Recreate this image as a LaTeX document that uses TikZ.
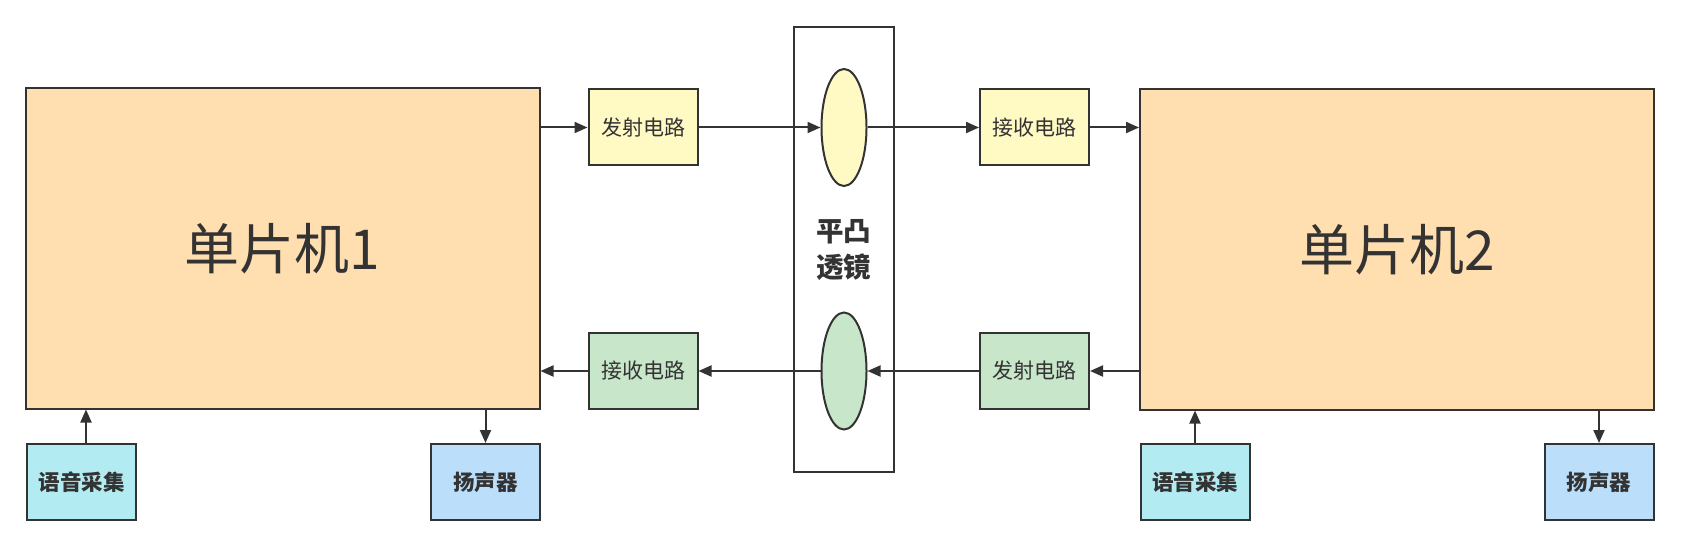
\documentclass[tikz,border=0pt]{standalone}
\usepackage{fontspec}
\setmainfont{Noto Sans CJK SC}
\usetikzlibrary{shapes.geometric,arrows.meta}
\definecolor{ink}{HTML}{333333}
\definecolor{mcufill}{HTML}{FFDFB0}
\definecolor{yelfill}{HTML}{FFF9C4}
\definecolor{grnfill}{HTML}{C8E6C9}
\definecolor{cyanfill}{HTML}{B2EBF2}
\definecolor{bluefill}{HTML}{BBDEFB}
\tikzset{
  box/.style={draw=ink, line width=2pt, inner sep=0pt, text=ink, anchor=center},
  mcubox/.style={box, fill=mcufill, minimum width=514pt, minimum height=320pt, font=\fontsize{55}{66}\selectfont},
  smallbox/.style={box, minimum width=109pt, minimum height=76pt, font=\fontsize{21}{25}\selectfont},
  iobox/.style={box, minimum width=109pt, minimum height=76pt, font=\fontsize{21.5}{25}\selectfont\bfseries},
  lensell/.style={ellipse, draw=ink, line width=2pt, minimum width=45pt, minimum height=117pt, inner sep=0pt},
  arr/.style={draw=ink, line width=2pt, -{Triangle[length=13pt,width=11pt]}},
}
\begin{document}
\begin{tikzpicture}[x=1pt,y=-1pt]
\useasboundingbox (0,0) rectangle (1681,548);
% MCUs
\node[mcubox] (mcu1) at (282.5,248.5) {\raisebox{-4pt}{单片机1}};
\node[mcubox] (mcu2) at (1397,249.5) {\raisebox{-4pt}{单片机2}};
% lens frame
\node[box, minimum width=100pt, minimum height=444pt] (lens) at (843.5,249.5) {};
\node[text=ink, align=center, font=\fontsize{27.5}{36}\selectfont\bfseries] (lenslabel) at (843.5,250) {平凸\\透镜};
\node[lensell, fill=yelfill] (e1) at (844,127.5) {};
\node[lensell, fill=grnfill] (e2) at (844,371) {};
% circuits
\node[smallbox, fill=yelfill] (tx1) at (643,127.5) {发射电路};
\node[smallbox, fill=grnfill] (rx1) at (643,371) {接收电路};
\node[smallbox, fill=yelfill] (rx2) at (1034.5,127.5) {接收电路};
\node[smallbox, fill=grnfill] (tx2) at (1034.5,371) {发射电路};
% io boxes
\node[iobox, fill=cyanfill] (mic1) at (81.5,482) {语音采集};
\node[iobox, fill=bluefill] (spk1) at (485.5,482) {扬声器};
\node[iobox, fill=cyanfill] (mic2) at (1195,482) {语音采集};
\node[iobox, fill=bluefill] (spk2) at (1599,482) {扬声器};
\coordinate (mic1top) at ([xshift=4.5pt]mic1.north);
% top path
\draw[arr] (tx1.west -| mcu1.east) -- (tx1.west);
\draw[arr] (tx1.east) -- (e1.west);
\draw[arr] (e1.east) -- (rx2.west);
\draw[arr] (rx2.east) -- (rx2.east -| mcu2.west);
% bottom path
\draw[arr] (tx2.east -| mcu2.west) -- (tx2.east);
\draw[arr] (tx2.west) -- (e2.east);
\draw[arr] (e2.west) -- (rx1.east);
\draw[arr] (rx1.west) -- (rx1.west -| mcu1.east);
% io arrows
\draw[arr] (mic1top) -- (mic1top |- mcu1.south);
\draw[arr] (spk1.north |- mcu1.south) -- (spk1.north);
\draw[arr] (mic2.north) -- (mic2.north |- mcu2.south);
\draw[arr] (spk2.north |- mcu2.south) -- (spk2.north);
\end{tikzpicture}
\end{document}
